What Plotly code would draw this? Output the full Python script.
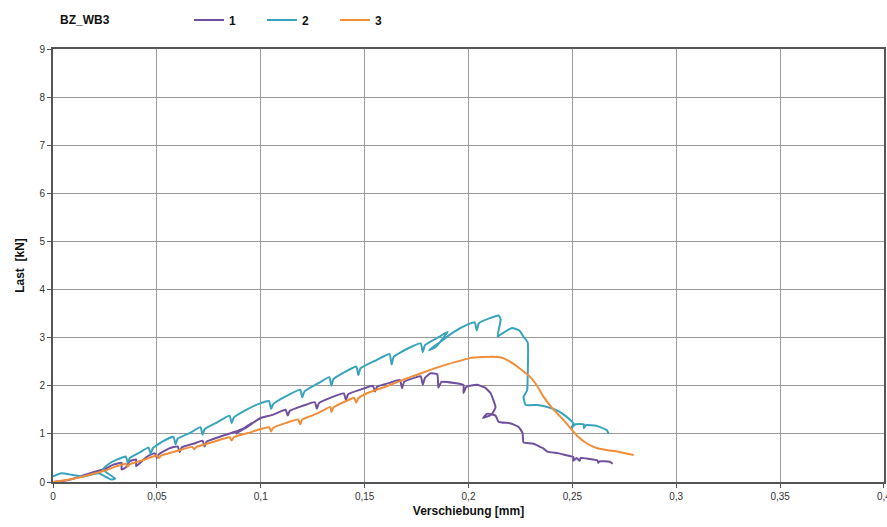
import plotly.graph_objects as go

# Load-displacement curves for specimen BZ_WB3, tests 1-3
x1 = [0, 0.006, 0.012, 0.019, 0.025, 0.029, 0.033, 0.033, 0.035, 0.037, 0.040, 0.040, 0.042,
      0.045, 0.049, 0.050, 0.051, 0.056, 0.060, 0.061, 0.062, 0.068, 0.072, 0.073, 0.074, 0.081,
      0.088, 0.092, 0.088, 0.094, 0.090, 0.096, 0.092, 0.098, 0.100, 0.106, 0.112, 0.113, 0.114,
      0.120, 0.126, 0.127, 0.128, 0.134, 0.140, 0.141, 0.142, 0.148, 0.154, 0.155, 0.156, 0.162,
      0.167, 0.168, 0.169, 0.175, 0.177, 0.178, 0.179, 0.1817, 0.185, 0.1855, 0.187, 0.193,
      0.1976, 0.1976, 0.199, 0.204, 0.208, 0.2106, 0.213, 0.211, 0.207, 0.209, 0.213, 0.2145,
      0.220, 0.224, 0.226, 0.2265, 0.231, 0.236, 0.238, 0.243, 0.2457, 0.2505, 0.2505, 0.252,
      0.2535, 0.254, 0.258, 0.262, 0.2625, 0.263, 0.268, 0.2694]
y1 = [0.0, 0.03, 0.10, 0.20, 0.27, 0.36, 0.40, 0.26, 0.30, 0.43, 0.47, 0.33, 0.40,
      0.52, 0.60, 0.50, 0.58, 0.70, 0.74, 0.62, 0.72, 0.80, 0.86, 0.74, 0.84, 0.95,
      1.05, 1.12, 1.00, 1.18, 1.05, 1.24, 1.10, 1.28, 1.33, 1.40, 1.50, 1.38, 1.48,
      1.58, 1.66, 1.52, 1.64, 1.76, 1.84, 1.70, 1.82, 1.92, 2.00, 1.88, 1.98, 2.06,
      2.12, 1.95, 2.08, 2.18, 2.20, 2.02, 2.16, 2.26, 2.24, 1.96, 2.08, 2.06,
      2.02, 1.85, 1.98, 2.02, 1.96, 1.85, 1.55, 1.40, 1.33, 1.42, 1.38, 1.25,
      1.22, 1.15, 1.02, 0.82, 0.80, 0.70, 0.63, 0.60, 0.57, 0.52, 0.44, 0.50,
      0.44, 0.50, 0.48, 0.45, 0.40, 0.43, 0.42, 0.38]

x2 = [0, 0.004, 0.009, 0.014, 0.022, 0.028, 0.030, 0.024, 0.027, 0.031, 0.035, 0.036, 0.037,
      0.042, 0.046, 0.047, 0.048, 0.053, 0.058, 0.059, 0.060, 0.066, 0.071, 0.072, 0.073, 0.079,
      0.085, 0.086, 0.087, 0.093, 0.100, 0.104, 0.105, 0.106, 0.112, 0.119, 0.120, 0.121, 0.128,
      0.133, 0.134, 0.135, 0.141, 0.146, 0.147, 0.148, 0.155, 0.162, 0.163, 0.164, 0.171, 0.177,
      0.178, 0.179, 0.186, 0.190, 0.184, 0.181, 0.186, 0.193, 0.200, 0.203, 0.204, 0.205, 0.210,
      0.2145, 0.2155, 0.214, 0.216, 0.221, 0.2245, 0.2265, 0.2285, 0.2285, 0.2282, 0.2265,
      0.2275, 0.233, 0.238, 0.2435, 0.2465, 0.2505, 0.2495, 0.2515, 0.2555, 0.2555, 0.2565,
      0.2615, 0.264, 0.2665, 0.2675]
y2 = [0.12, 0.18, 0.15, 0.11, 0.18, 0.05, 0.07, 0.26, 0.38, 0.47, 0.53, 0.40, 0.50,
      0.62, 0.72, 0.58, 0.70, 0.85, 0.94, 0.78, 0.90, 1.02, 1.14, 0.98, 1.10, 1.24,
      1.38, 1.22, 1.34, 1.50, 1.64, 1.68, 1.52, 1.62, 1.78, 1.92, 1.76, 1.88, 2.06,
      2.18, 2.00, 2.14, 2.30, 2.40, 2.22, 2.36, 2.52, 2.66, 2.44, 2.60, 2.78, 2.88,
      2.70, 2.84, 3.02, 3.12, 2.80, 2.74, 2.90, 3.12, 3.28, 3.32, 3.15, 3.30, 3.40,
      3.46, 3.38, 3.02, 3.08, 3.20, 3.15, 3.02, 2.90, 2.20, 1.90, 1.77,
      1.60, 1.60, 1.56, 1.47, 1.38, 1.22, 1.12, 1.20, 1.20, 1.12, 1.18,
      1.17, 1.13, 1.08, 1.00]

x3 = [0, 0.008, 0.015, 0.022, 0.026, 0.030, 0.035, 0.036, 0.037, 0.043, 0.050, 0.051, 0.052,
      0.060, 0.067, 0.068, 0.069, 0.077, 0.085, 0.086, 0.087, 0.094, 0.100, 0.104, 0.105, 0.106,
      0.113, 0.118, 0.119, 0.120, 0.127, 0.1335, 0.134, 0.135, 0.142, 0.145, 0.146, 0.147, 0.152,
      0.160, 0.166, 0.172, 0.1817, 0.190, 0.196, 0.201, 0.207, 0.214, 0.217, 0.220, 0.225, 0.230,
      0.233, 0.236, 0.240, 0.2457, 0.2525, 0.257, 0.262, 0.267, 0.272, 0.2795]
y3 = [0.0, 0.05, 0.12, 0.20, 0.25, 0.32, 0.38, 0.32, 0.37, 0.45, 0.55, 0.50, 0.55,
      0.65, 0.73, 0.68, 0.73, 0.83, 0.93, 0.86, 0.93, 1.02, 1.10, 1.14, 1.05, 1.13,
      1.24, 1.30, 1.20, 1.30, 1.42, 1.56, 1.45, 1.55, 1.70, 1.75, 1.65, 1.74, 1.86,
      1.98, 2.08, 2.18, 2.33, 2.45, 2.52, 2.58, 2.60, 2.60, 2.57, 2.50, 2.35, 2.17,
      2.00, 1.78, 1.55, 1.29, 0.95, 0.80, 0.70, 0.66, 0.63, 0.56]

series = [("1", x1, y1, "#70509e"), ("2", x2, y2, "#38a3bd"), ("3", x3, y3, "#f08d38")]

FONT = "Liberation Sans, Arial, sans-serif"
W, H = 887, 527
ML, MR, MT, MB = 53, 3, 49, 45
PW, PH = W - ML - MR, H - MT - MB

fig = go.Figure()
for name, xs, ys, col in series:
    fig.add_trace(go.Scatter(x=xs, y=ys, mode="lines", name=f"<b>{name}</b>",
                             line=dict(color=col, width=2, shape="spline", smoothing=0.4)))

axis_font = dict(family=FONT, size=10, color="#333333")
title_font = dict(family=FONT, size=12, color="#111111")

fig.update_layout(
    width=W, height=H,
    margin=dict(l=ML, r=MR, t=MT, b=MB, autoexpand=False),
    paper_bgcolor="white", plot_bgcolor="white",
    separators=", ",
    showlegend=True,
    legend=dict(orientation="h", x=(189 - ML) / PW, xanchor="left",
                y=(H - MB - 20) / PH, yanchor="middle",
                font=dict(family=FONT, size=12, color="#111111"),
                itemwidth=30, entrywidth=28, entrywidthmode="pixels",
                traceorder="normal", bgcolor="rgba(0,0,0,0)"),
    annotations=[dict(text="<b>BZ_WB3</b>", xref="paper", yref="paper",
                      x=(58 - ML) / PW, y=(H - MB - 20) / PH,
                      xanchor="left", yanchor="middle",
                      showarrow=False, font=title_font)],
)

fig.update_xaxes(range=[0, 0.40001], dtick=0.05, tick0=0,
                 showgrid=True, gridcolor="#9a9a9a", gridwidth=1,
                 showline=True, linecolor="#555555", linewidth=2, mirror=True,
                 ticks="outside", ticklen=4, tickcolor="#555555",
                 tickfont=axis_font, zeroline=False, ticklabeloverflow="allow",
                 title=dict(text="<b>Verschiebung [mm]</b>", font=title_font, standoff=6))
fig.update_yaxes(range=[0, 9], dtick=1, tick0=0,
                 showgrid=True, gridcolor="#9a9a9a", gridwidth=1,
                 showline=True, linecolor="#555555", linewidth=2, mirror=True,
                 ticks="outside", ticklen=4, tickcolor="#555555",
                 tickfont=axis_font, zeroline=False,
                 title=dict(text="<b>Last  [kN]</b>", font=title_font, standoff=12))

fig.write_html("out.html")
